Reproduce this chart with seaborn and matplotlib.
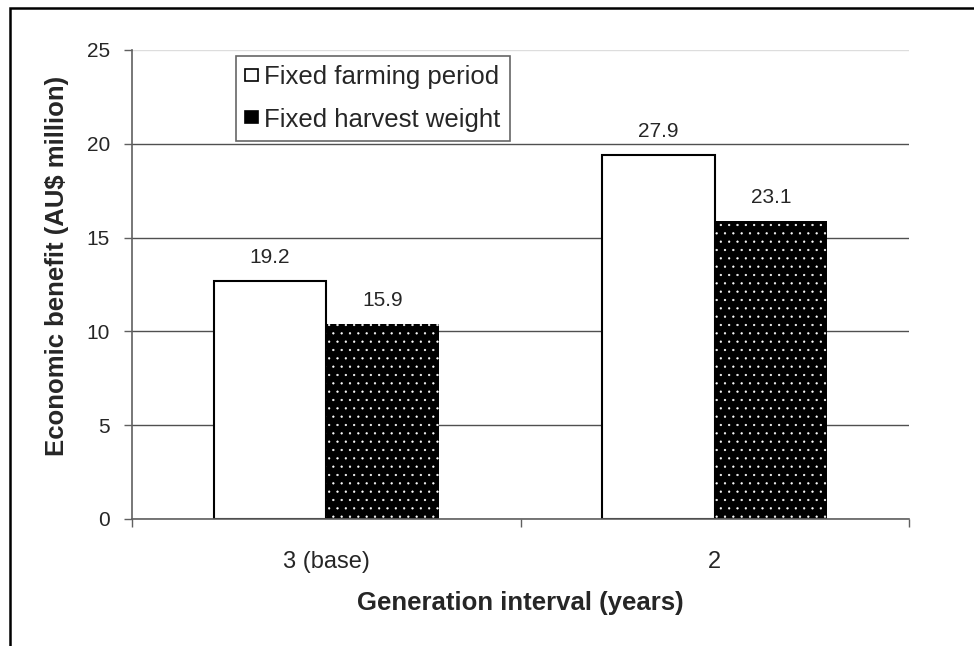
import matplotlib
matplotlib.use("Agg")
import matplotlib.pyplot as plt
from matplotlib.patches import Rectangle
import seaborn as sns
import pandas as pd

categories = ["3 (base)", "2"]
series = ["Fixed farming period", "Fixed harvest weight"]
fixed_period = [12.7, 19.4]
fixed_weight = [10.4, 15.9]
period_labels = ["19.2", "27.9"]
weight_labels = ["15.9", "23.1"]
y_ticks = [0, 5, 10, 15, 20, 25]

df = pd.DataFrame({
    "Generation interval (years)": categories * 2,
    "value": fixed_period + fixed_weight,
    "series": [series[0]] * len(categories) + [series[1]] * len(categories),
})

sns.set_theme(style="white")
plt.rcParams["font.family"] = ["Liberation Sans", "DejaVu Sans"]
plt.rcParams["hatch.linewidth"] = 0.4

fig = plt.figure(figsize=(9.74, 6.46), dpi=100)
ax = fig.add_axes([132 / 974, 1 - 519 / 646, (909 - 132) / 974, (519 - 50) / 646])

sns.barplot(data=df, x="Generation interval (years)", y="value", hue="series",
            hue_order=series, order=categories,
            palette={series[0]: "white", series[1]: "black"},
            width=0.58, gap=0, edgecolor="black", linewidth=1.5, ax=ax,
            legend=False)

c_period, c_weight = ax.containers[0], ax.containers[1]
for p in c_weight:
    p.set_hatch("..")
    p.set_edgecolor("white")
    p.set_linewidth(0)

ax.bar_label(c_period, labels=period_labels, padding=10, fontsize=15)
ax.bar_label(c_weight, labels=weight_labels, padding=10, fontsize=15)

ax.set_ylim(0, 25)
ax.set_xlim(-0.5, len(categories) - 0.5)
ax.set_yticks(y_ticks)
ax.set_yticklabels([str(t) for t in y_ticks], fontsize=15)
ax.set_xticks(range(len(categories)))
ax.set_xticklabels(categories, fontsize=17)
ax.set_xticks([-0.5, 0.5, 1.5], minor=True)
ax.tick_params(axis="x", which="major", length=0, pad=23)
ax.tick_params(axis="x", which="minor", length=6, width=1, color="#606060", bottom=True)
ax.tick_params(axis="y", which="major", length=6, width=1, color="#606060", left=True, pad=10)

ax.yaxis.grid(True, color="#505050", linewidth=1)
ax.set_axisbelow(True)
gl = ax.get_ygridlines()
gl[-1].set_color("#dddddd")

for s in ["top", "right"]:
    ax.spines[s].set_visible(False)
for s in ["left", "bottom"]:
    ax.spines[s].set_color("#606060")
    ax.spines[s].set_linewidth(1.2)

ax.set_xlabel("Generation interval (years)", fontsize=18.5, fontweight="bold", labelpad=13)
ax.set_ylabel("Economic benefit (AU$ million)", fontsize=18.5, fontweight="bold")
ax.yaxis.set_label_coords(-0.081, 0.54)

handles = [
    Rectangle((0, 0), 1, 1, facecolor="white", edgecolor="black", linewidth=1.2),
    Rectangle((0, 0), 1, 1, facecolor="black", edgecolor="black", linewidth=1.2),
]
leg = ax.legend(handles, series, loc="upper left", bbox_to_anchor=(0.134, 0.987),
                borderaxespad=0, fontsize=18.5, frameon=True, fancybox=False,
                handlelength=0.5, handleheight=0.35, handletextpad=0.25,
                labelspacing=0.72, borderpad=0.35)
leg.get_frame().set_edgecolor("#404040")
leg.get_frame().set_linewidth(1.2)

fig.patches.append(Rectangle((10 / 974, -0.1), 1.2, 1 - 8 / 646 + 0.1,
                             transform=fig.transFigure, fill=False,
                             edgecolor="black", linewidth=1.8))

fig.savefig("out.png", dpi=100)
